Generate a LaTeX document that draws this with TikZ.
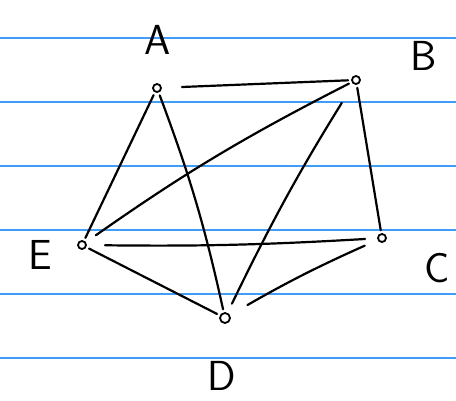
\documentclass[tikz,border=0pt]{standalone}
\usepackage{tikz}
\usetikzlibrary{positioning}
\definecolor{ruleblue}{RGB}{64,158,250}

\begin{document}
\begin{tikzpicture}[x=1pt,y=-1pt]
  \tikzstyle{vtx}=[draw,circle,line width=1.8pt,fill=white,inner sep=0pt,minimum size=8pt]
  \tikzstyle{lbl}=[font=\sffamily\fontsize{42}{42}\selectfont,inner sep=0pt]
  \tikzstyle{edge}=[line width=2.2pt,line cap=round,shorten <=3pt,shorten >=3pt]
  \useasboundingbox (0,0) rectangle (456,400);
  % ruled paper
  \foreach \y in {38,102,166,230,294,358}
    \draw[ruleblue,line width=1.4pt] (0,\y) -- (456,\y);
  % vertices
  \node[vtx] (a) at (157,88) {};
  \node[vtx] (b) at (356,80) {};
  \node[vtx] (c) at (382,238) {};
  \node[vtx,minimum size=10pt] (d) at (225,318) {};
  \node[vtx] (e) at (82,245) {};
  % names
  \node[lbl] (la) at (158,40) {A};
  \node[lbl] (lb) at (424,56) {B};
  \node[lbl] (lc) at (437,268) {C};
  \node[lbl] (ld) at (222,376) {D};
  \node[lbl] (le) at (40,255) {E};
  % edges
  \draw[edge,shorten <=20pt] (a) -- (b);
  \draw[edge] (a) -- (e);
  \draw[edge] (a) to[bend left=4] (d);
  \draw[edge] (b) -- (c);
  \draw[edge,shorten >=12pt] (b) to[bend right=4] (e);
  \draw[edge,shorten <=22pt,shorten >=10pt] (b) to[bend right=3] (d);
  \draw[edge,shorten <=18pt,shorten >=12pt] (e) to[bend right=2] (c);
  \draw[edge] (e) -- (d);
  \draw[edge,shorten <=20pt,shorten >=14pt] (d) to[bend left=3] (c);
\end{tikzpicture}
\end{document}
